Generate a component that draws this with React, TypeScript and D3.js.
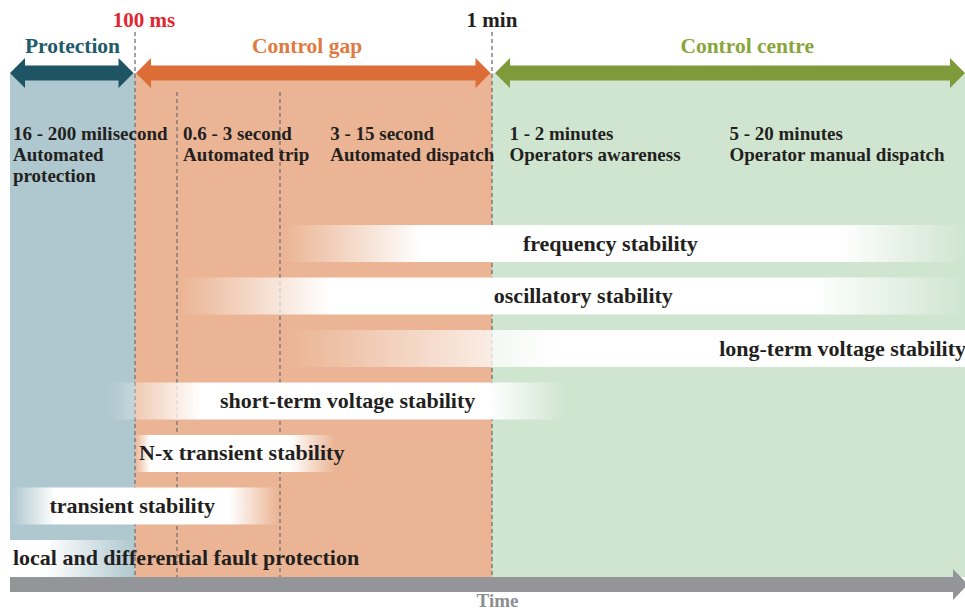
import React from "react";
import * as d3 from "d3";

const W = 965;
const H = 612;
const FONT = "'Liberation Serif', 'Times New Roman', serif";
const INK = "#231f20";

// timeline breakpoints (seconds) and where they sit on the page
const timeMarks = [0.016, 0.1, 0.6, 3, 60, 1200];
const timeRange = [10, 135, 177, 280, 492, 965];

// control phases
const phaseNames = ["Protection", "Control gap", "Control centre"];
const phaseStart = [0.016, 0.1, 60];
const phaseEnd = [0.1, 60, 1200];
const phaseLabelAt = [0.04, 4.4, 302];
const phaseFill = ["#afc8cf", "#ebb595", "#cfe5d0"];
const phaseArrow = ["#1f5464", "#dc6d36", "#7e9a3b"];
const phaseText = ["#215b6b", "#e07a40", "#8aa53c"];

// milestone lines
const milestoneLabels = ["100 ms", "1 min"];
const milestoneTimes = [0.1, 60];
const milestoneColors = ["#e3262d", INK];
const dividerTimes = [0.6, 3];

// response steps
const stepTimes = [0.0167, 0.66, 6.1, 67, 270];
const stepRanges = ["16 - 200 milisecond", "0.6 - 3 second", "3 - 15 second", "1 - 2 minutes", "5 - 20 minutes"];
const stepActions = [
  ["Automated", "protection"],
  ["Automated trip"],
  ["Automated dispatch"],
  ["Operators awareness"],
  ["Operator manual dispatch"],
];

// stability phenomena bands
const bandNames = [
  "frequency stability",
  "oscillatory stability",
  "long-term voltage stability",
  "short-term voltage stability",
  "N-x transient stability",
  "transient stability",
  "local and differential fault protection",
];
const bandFadeInFrom = [3.2, 0.63, 3.46, 0.069, 0.1, 0.0165, 0.016];
const bandFadeInTo = [22, 6.1, 92, 0.86, 0.19, 0.031, 0.016];
const bandFadeOutFrom = [540, 458, 1200, 58, 3.46, 1.37, 0.027];
const bandFadeOutTo = [1200, 1200, 1200, 95, 6.5, 2.9, 0.1];
const bandLabelAt = [127, 107, 1200, 7.8, 0.119, 0.096, 0.0167];
const bandLabelAnchor = ["middle", "middle", "end", "middle", "start", "middle", "start"];

const x = d3.scaleLog().domain(timeMarks).range(timeRange);
const y = d3.scaleBand<string>().domain(bandNames).range([225, 577]).paddingInner(0.295);

const arrowY = 73;
const regionBottom = 577;

function dblArrow(x0: number, x1: number, yc: number, shaft = 7.5, head = 15, len = 15) {
  const p = d3.path();
  p.moveTo(x0, yc);
  p.lineTo(x0 + len, yc - head);
  p.lineTo(x0 + len, yc - shaft);
  p.lineTo(x1 - len, yc - shaft);
  p.lineTo(x1 - len, yc - head);
  p.lineTo(x1, yc);
  p.lineTo(x1 - len, yc + head);
  p.lineTo(x1 - len, yc + shaft);
  p.lineTo(x0 + len, yc + shaft);
  p.lineTo(x0 + len, yc + head);
  p.closePath();
  return p.toString();
}

function oneArrow(x0: number, x1: number, yc: number, shaft = 7.5, head = 15.5, len = 15) {
  const p = d3.path();
  p.moveTo(x0, yc - shaft);
  p.lineTo(x1 - len, yc - shaft);
  p.lineTo(x1 - len, yc - head);
  p.lineTo(x1, yc);
  p.lineTo(x1 - len, yc + head);
  p.lineTo(x1 - len, yc + shaft);
  p.lineTo(x0, yc + shaft);
  p.closePath();
  return p.toString();
}

export default function App() {
  const x0 = x(timeMarks[0]);
  const xEnd = x(timeMarks[timeMarks.length - 1]);

  return (
    <svg
      width={W}
      height={H}
      style={{ position: "absolute", left: 0, top: 0, display: "block", background: "#fff" }}
      fontFamily={FONT}
      fontWeight="bold"
    >
      <defs>
        {bandNames.map((name, i) => {
          const a = x(bandFadeInFrom[i]);
          const b = x(bandFadeOutTo[i]);
          const w = b - a;
          return (
            <linearGradient key={name} id={`band${i}`} gradientUnits="userSpaceOnUse" x1={a} x2={b} y1={0} y2={0}>
              <stop offset={0} stopColor="#fff" stopOpacity={0} />
              <stop offset={(x(bandFadeInTo[i]) - a) / w} stopColor="#fff" stopOpacity={1} />
              <stop offset={(x(bandFadeOutFrom[i]) - a) / w} stopColor="#fff" stopOpacity={1} />
              <stop offset={1} stopColor="#fff" stopOpacity={bandFadeOutFrom[i] === bandFadeOutTo[i] ? 1 : 0} />
            </linearGradient>
          );
        })}
      </defs>

      {/* phase regions */}
      {phaseNames.map((name, i) => (
        <rect
          key={name}
          x={x(phaseStart[i])}
          y={arrowY}
          width={x(phaseEnd[i]) - x(phaseStart[i])}
          height={regionBottom - arrowY}
          fill={phaseFill[i]}
        />
      ))}

      {/* dashed time markers */}
      {milestoneTimes.map((t) => (
        <line key={t} x1={x(t)} x2={x(t)} y1={32} y2={regionBottom} stroke="#707173" strokeWidth={1.3} strokeDasharray="4 3" />
      ))}
      {dividerTimes.map((t) => (
        <line key={t} x1={x(t)} x2={x(t)} y1={92} y2={regionBottom} stroke="#707173" strokeWidth={1.3} strokeDasharray="4 3" />
      ))}

      {/* phase arrows and titles */}
      {phaseNames.map((name, i) => {
        const inset = i === 2 ? 3 : 1;
        const a = x(phaseStart[i]) + (i === 0 ? 0 : inset);
        const b = i === 2 ? xEnd : x(phaseEnd[i]) - 1.5;
        return (
          <g key={name}>
            <path d={dblArrow(a, b, arrowY)} fill={phaseArrow[i]} />
            <text x={x(phaseLabelAt[i])} y={53} textAnchor="middle" fontSize={21.5} fill={phaseText[i]}>
              {name}
            </text>
          </g>
        );
      })}

      {milestoneLabels.map((label, i) => (
        <text
          key={label}
          x={x(milestoneTimes[i]) + (i === 0 ? 9 : 0)}
          y={27}
          textAnchor="middle"
          fontSize={21}
          fill={milestoneColors[i]}
        >
          {label}
        </text>
      ))}

      {/* response step descriptions */}
      {stepRanges.map((r, i) => (
        <text key={r} x={x(stepTimes[i])} y={140} fontSize={19} fill={INK}>
          <tspan x={x(stepTimes[i])}>{r}</tspan>
          {stepActions[i].map((line) => (
            <tspan key={line} x={x(stepTimes[i])} dy={21}>
              {line}
            </tspan>
          ))}
        </text>
      ))}

      {/* stability bands */}
      {bandNames.map((name, i) => {
        const a = x(bandFadeInFrom[i]);
        const b = x(bandFadeOutTo[i]);
        const yy = y(name) ?? 0;
        const lx = x(bandLabelAt[i]) + (bandLabelAnchor[i] === "end" ? 1 : 0);
        return (
          <g key={name}>
            <rect x={a} y={yy} width={b - a} height={y.bandwidth()} fill={`url(#band${i})`} />
            <text
              x={lx}
              y={yy + y.bandwidth() / 2 + 7}
              textAnchor={bandLabelAnchor[i]}
              fontSize={22}
              fill={INK}
            >
              {name}
            </text>
          </g>
        );
      })}

      {/* time axis */}
      <path d={oneArrow(x0, xEnd + 3, 584.5)} fill="#939598" />
      <text x={(x0 + xEnd) / 2 + 10} y={607} textAnchor="middle" fontSize={19} fill="#8c8e91">
        Time
      </text>
    </svg>
  );
}
